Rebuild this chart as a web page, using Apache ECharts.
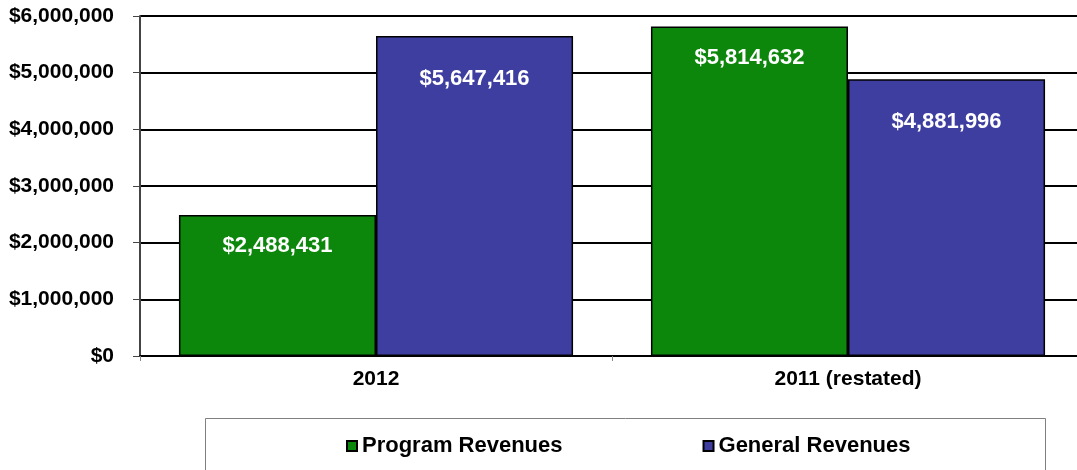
<!DOCTYPE html>
<html><head><meta charset="utf-8">
<script src="https://cdn.jsdelivr.net/npm/echarts@6/dist/echarts.min.js"></script>
<style>html,body{margin:0;padding:0;background:#fff}#c{width:1077px;height:470px}</style>
</head><body><div id="c"></div>
<script>
const categories = ['2012', '2011 (restated)'];
const programRevenues = [2488431, 5814632];
const generalRevenues = [5647416, 4881996];
const seriesNames = ['Program Revenues', 'General Revenues'];

const font = 'Arial, "Liberation Sans", sans-serif';
const fmt = v => '$' + Math.round(v).toLocaleString('en-US');
const chart = echarts.init(document.getElementById('c'));
const labelCfg = d => ({
  show: true, position: 'insideTop', distance: d, color: '#fff',
  fontFamily: font, fontWeight: 'bold', fontSize: 22,
  formatter: p => fmt(p.value)
});
chart.setOption({
  animation: false,
  grid: { left: 140, width: 944, top: 16, height: 340, outerBoundsMode: 'none', containLabel: false },
  graphic: [{
    type: 'rect', shape: { x: 205.5, y: 418.5, width: 840, height: 60 },
    style: { fill: '#fff', stroke: '#808080', lineWidth: 1 }, z: 0
  }],
  legend: {
    data: seriesNames, top: 430, left: 341, itemGap: 140,
    itemWidth: 10, itemHeight: 10, icon: 'rect',
    textStyle: { fontFamily: font, fontWeight: 'bold', fontSize: 22, color: '#000' },
    itemStyle: { borderColor: '#000', borderWidth: 2 }
  },
  xAxis: {
    type: 'category', data: categories,
    axisLine: { lineStyle: { color: '#000', width: 2 } },
    axisTick: { show: true, length: 5, lineStyle: { color: '#888' } },
    axisLabel: { fontFamily: font, fontWeight: 'bold', fontSize: 21, color: '#000', margin: 13 }
  },
  yAxis: {
    type: 'value', min: 0, max: 6000000, interval: 1000000,
    axisLine: { show: true, lineStyle: { color: '#444', width: 2 } },
    axisTick: { show: true, length: 7, lineStyle: { color: '#444' } },
    splitLine: { lineStyle: { color: '#000', width: 2 } },
    axisLabel: { fontFamily: font, fontWeight: 'bold', fontSize: 21, color: '#000', margin: 26, formatter: fmt }
  },
  series: [
    { name: seriesNames[0], type: 'bar', data: programRevenues, barGap: '0%', barCategoryGap: '16.5%',
      itemStyle: { color: '#0c870c', borderColor: '#000', borderWidth: 1.5 }, label: labelCfg(20) },
    { name: seriesNames[1], type: 'bar', data: generalRevenues,
      itemStyle: { color: '#3e3ea0', borderColor: '#000', borderWidth: 1.5 }, label: labelCfg(32) }
  ]
});
</script></body></html>
